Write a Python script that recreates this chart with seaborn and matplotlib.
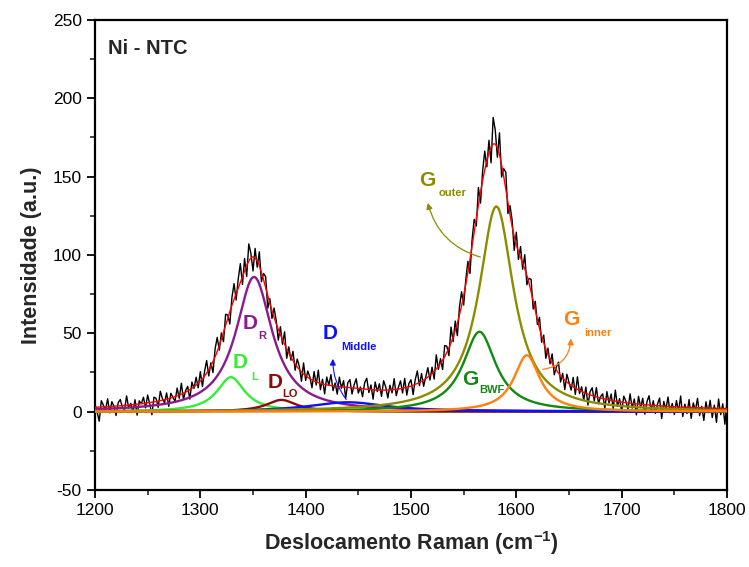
import numpy as np
import pandas as pd
import matplotlib
matplotlib.use("Agg")
import matplotlib.pyplot as plt
import seaborn as sns

# ---- data ----
peak_names = ["D_L", "D_R", "D_LO", "D_Middle", "G_BWF", "G_outer", "G_inner"]
peak_centers = [1329, 1351, 1377, 1440, 1565, 1581, 1610]
peak_heights = [22, 86, 7.5, 6, 51, 131, 36]
peak_fwhm = [32, 42, 35, 90, 38, 40, 30]
peak_colors = ["#33ee33", "#8b1a8b", "#8b0a0a", "#1010ff", "#118a11", "#8c8c00", "#ff8010"]

spec_start, spec_step = 1200, 2
residuals = [
    2, -3, -9, 4, 1, -2, 5, -4, 3, 0, -6, 2, 4, -1, -3, 6, -2, 1, -5, 3,
    -7, 2, 0, 4, -3, 5, -1, -8, 3, 2, -4, 6, 1, -2, 4, -5, 3, 0, -3, 5,
    -2, 7, -4, 1, 3, -6, 4, -1, 5, -3,
    6, -5, 3, 8, -4, 2, -7, 5, 9, -3, 4, -6, 7, 2, -8, 5, 10, -4, 6, 12,
    -5, 8, -7, 11, 3, -9, 6, -4, 9, -6, 4, 7, -8, 3, -5, 6, 2, -7, 5, -3,
    8, -6, 4, -2, 6,
    -4, 5, 2, -6, 7, -3, 4, 1, -5, 6, -2, 8, -4, 3, -6, 5, 0, 7, -3, 2,
    -5, 6, -1, 4, -7, 3, 5, -4, 2, 6, -3, 1, -5, 4, 7, -2, 3, -6, 5, -1,
    4, -4, 6, 2, -5, 3, -2, 7, -4, 1, 5, -3, 6, -5, 2, 4, -6, 3, 8, -2,
    5, -4, 1, 6, -3, 4, -5, 9, -2, 3,
    -6, 7, 4, -5, 10, -3, 6, -8, 5, 9, -6, 3, 7, -9, 4, 8, -5, 11, -7, 6,
    12, -4, 8, -10, 17, 9, -6, 14, -8, 5, 11, -7, 6, 4, -9, 8, -5, 7, -4, 9,
    -6, 3, 8, -5, 6, -3, 7, -4, 5, -6,
    4, -3, 6, -5, 2, 7, -4, 3, -6, 5, 1, -3, 6, -4, 8, -2, 3, -5, 4, -7,
    2, 5, -3, 6, -4, 1, 3, -6, 5, -2, 4, -5, 7, -3, 2, -6, 4, 1, -4, 6,
    -3, 3, -7, 5, -2, 4, -6, 2, 6, -4, 3, -5, 1, 5, -8, 3, -2, 6, -4, 2,
    -5, 4, -3, 7, -6, 2, -4, 5, -7, 3, -2, 6, -5, 1, -8, 4, -3, 5, -6, 2,
    -9, 6, -4, 3, -10, 5,
]

x_ticks = [1200, 1300, 1400, 1500, 1600, 1700, 1800]
y_ticks = [-50, 0, 50, 100, 150, 200, 250]


def lorentz(x, c, h, w):
    return h / (1.0 + ((x - c) / (w / 2.0)) ** 2)


def model(x):
    return sum(lorentz(x, c, h, w) for c, h, w in zip(peak_centers, peak_heights, peak_fwhm))


x_fine = np.arange(1200, 1801, 1.0)
x_spec = spec_start + spec_step * np.arange(len(residuals))
y_spec = model(x_spec) + np.array(residuals, dtype=float)

sns.set_style("white")
plt.rcParams["font.family"] = ["Liberation Sans", "DejaVu Sans"]
plt.rcParams["axes.unicode_minus"] = False
plt.rcParams["mathtext.fontset"] = "custom"
plt.rcParams["mathtext.rm"] = "Liberation Sans:bold"
plt.rcParams["mathtext.bf"] = "Liberation Sans:bold"

fig = plt.figure(figsize=(7.49, 5.67), dpi=100)
ax = fig.add_axes([95 / 749, 1 - 490 / 567, (727 - 95) / 749, (490 - 20) / 567])

sns.lineplot(x=x_spec, y=y_spec, ax=ax, color="black", linewidth=1.0,
             estimator=None, sort=False, zorder=2)
for name, c, h, w, col in zip(peak_names, peak_centers, peak_heights, peak_fwhm, peak_colors):
    sns.lineplot(x=x_fine, y=lorentz(x_fine, c, h, w), ax=ax, color=col,
                 linewidth=1.7, estimator=None, sort=False, zorder=3)
sns.lineplot(x=x_fine, y=model(x_fine), ax=ax, color="#ff0000", linewidth=1.0,
             estimator=None, sort=False, zorder=4)

ax.set_xlim(1200, 1800)
ax.set_ylim(-50, 250)
ax.set_xticks(x_ticks)
ax.set_yticks(y_ticks)
ax.set_xticks(np.arange(1250, 1800, 100), minor=True)
ax.set_yticks(np.arange(-25, 250, 50), minor=True)
ax.tick_params(axis="both", which="major", direction="out", length=6, width=1.3,
               labelsize=12.5, colors="black", bottom=True, left=True, top=False, right=False)
ax.tick_params(axis="both", which="minor", direction="out", length=3.5, width=1.2,
               bottom=True, left=True, top=False, right=False)
for s in ax.spines.values():
    s.set_visible(True)
    s.set_color("black")
    s.set_linewidth(1.6)

ax.set_xlabel(r"Deslocamento Raman (cm$^{\mathrm{-1}}$)", fontsize=15.5, fontweight="bold", labelpad=8)
ax.set_ylabel("Intensidade (a.u.)", fontsize=15.5, fontweight="bold", labelpad=8)

ax.text(1212, 232, "Ni - NTC", fontsize=14.5, fontweight="bold", ha="left", va="center")


def tag(xb, yb, big, xs, ys, small, col):
    ax.text(xb, yb, big, color=col, fontsize=15, fontweight="bold", ha="center", va="center", zorder=6)
    ax.text(xs, ys, small, color=col, fontsize=8, fontweight="bold", ha="center", va="center", zorder=6)


tag(1347.2, 56.5, "D", 1358.5, 48.5, "R", peak_colors[1])
tag(1337.7, 31.5, "D", 1351.5, 22.3, "L", peak_colors[0])
tag(1370.9, 18.5, "D", 1385.5, 11.5, "LO", peak_colors[2])
tag(1423.1, 49.7, "D", 1451, 41.5, "Middle", peak_colors[3])
tag(1515.2, 147.3, "G", 1539, 139.7, "outer", peak_colors[5])
tag(1651.9, 58.7, "G", 1677, 50.4, "inner", peak_colors[6])
tag(1556.0, 20.4, "G", 1577, 14.0, "BWF", peak_colors[4])

ax.annotate("", xy=(1515.3, 135.0), xytext=(1568.4, 98.2),
            arrowprops=dict(arrowstyle="-|>", color=peak_colors[5], lw=0.9,
                            connectionstyle="arc3,rad=-0.3", mutation_scale=9), zorder=6)
ax.annotate("", xy=(1651.9, 48.5), xytext=(1622.5, 26.8),
            arrowprops=dict(arrowstyle="-|>", color=peak_colors[6], lw=0.9,
                            connectionstyle="arc3,rad=0.45", mutation_scale=9), zorder=6)
ax.annotate("", xy=(1426.0, 35.5), xytext=(1440.2, 6.4),
            arrowprops=dict(arrowstyle="-|>", color=peak_colors[3], lw=0.8,
                            connectionstyle="arc3,rad=-0.2", mutation_scale=9), zorder=6)

fig.savefig("out.png", dpi=100)
